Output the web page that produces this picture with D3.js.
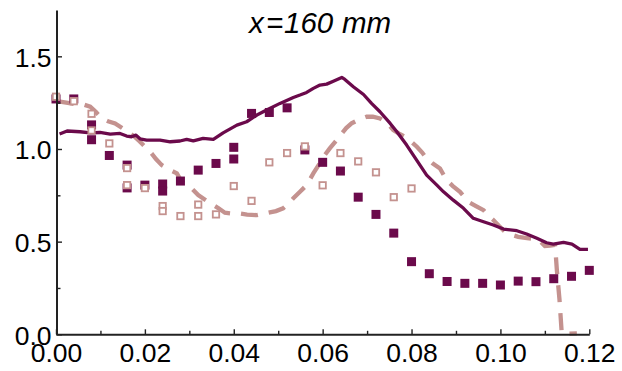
<!DOCTYPE html>
<html><head><meta charset="utf-8">
<script src="https://cdn.jsdelivr.net/npm/d3@7"></script>
<style>body{margin:0;background:#fff}svg{display:block}text{font-family:"Liberation Sans",Arial,sans-serif}</style>
</head><body>
<svg id="c" width="622" height="371"></svg>
<script>
// Filled (dark) squares
const filledX = [0.000,0.004,0.008,0.008,0.012,0.016,0.016,0.020,0.024,0.024,0.028,0.032,0.036,0.040,0.040,0.044,0.048,0.052,0.056,0.060,0.064,0.068,0.072,0.076,0.080,0.084,0.088,0.092,0.096,0.100,0.104,0.108,0.112,0.116,0.120];
const filledY = [1.27,1.27,1.13,1.05,0.965,0.913,0.79,0.805,0.811,0.773,0.827,0.886,0.922,1.009,0.946,1.192,1.197,1.222,0.995,0.928,0.881,0.74,0.647,0.546,0.392,0.327,0.285,0.275,0.275,0.266,0.287,0.284,0.30,0.313,0.345];
// Hollow (light) squares
const hollowX = [0.000,0.004,0.008,0.008,0.012,0.016,0.016,0.020,0.024,0.024,0.028,0.032,0.032,0.036,0.040,0.044,0.048,0.052,0.056,0.060,0.064,0.068,0.072,0.076,0.080];
const hollowY = [1.282,1.258,1.19,1.10,1.03,0.897,0.805,0.789,0.692,0.665,0.638,0.70,0.638,0.647,0.80,0.72,0.928,0.978,1.014,0.804,0.978,0.933,0.874,0.74,0.787];
// Solid dark line
const solidX = [0.0008,0.0025,0.0054,0.0077,0.0099,0.0122,0.0144,0.0159,0.017,0.018,0.0189,0.0204,0.0234,0.0257,0.0279,0.0294,0.0309,0.0331,0.0354,0.0376,0.0407,0.0429,0.0452,0.0474,0.0504,0.0534,0.0549,0.0564,0.0579,0.0594,0.0609,0.0624,0.0643,0.065,0.0669,0.0692,0.071,0.0729,0.0752,0.0767,0.0789,0.0804,0.0819,0.0834,0.0857,0.0872,0.0894,0.0917,0.0939,0.0962,0.0984,0.1007,0.1037,0.1059,0.1082,0.1104,0.1119,0.1142,0.1161,0.1179,0.1197];
const solidY = [1.081,1.097,1.093,1.087,1.089,1.080,1.084,1.07,1.066,1.075,1.055,1.048,1.048,1.039,1.043,1.052,1.044,1.057,1.052,1.087,1.129,1.147,1.183,1.21,1.246,1.278,1.291,1.305,1.327,1.345,1.350,1.366,1.386,1.375,1.336,1.294,1.246,1.201,1.138,1.093,1.021,0.967,0.913,0.859,0.805,0.769,0.724,0.680,0.626,0.607,0.590,0.568,0.559,0.541,0.518,0.494,0.487,0.496,0.487,0.458,0.458];
// Dashed light line
const dashX = [0.0002,0.0023,0.0045,0.0063,0.0077,0.009,0.0103,0.0117,0.0133,0.0149,0.0167,0.0178,0.0189,0.0203,0.0215,0.0225,0.0238,0.0252,0.0272,0.0283,0.0302,0.032,0.0333,0.0347,0.0365,0.038,0.0396,0.041,0.043,0.0452,0.0464,0.0478,0.0495,0.0511,0.0522,0.0534,0.0549,0.0564,0.0579,0.0594,0.0604,0.0616,0.063,0.0643,0.0653,0.0665,0.0682,0.0699,0.0713,0.0729,0.0745,0.0759,0.0772,0.0785,0.0799,0.0812,0.0824,0.0834,0.0848,0.0864,0.0879,0.0893,0.0909,0.0928,0.0945,0.0962,0.0972,0.0984,0.0997,0.101,0.1024,0.104,0.106,0.1082,0.1091,0.11,0.1112,0.1123,0.1127,0.1133,0.1138,0.1154,0.1172];
const dashY = [1.258,1.250,1.242,1.239,1.228,1.199,1.165,1.150,1.138,1.113,1.084,1.064,1.039,1.005,0.976,0.946,0.913,0.892,0.868,0.823,0.795,0.751,0.73,0.707,0.681,0.656,0.652,0.653,0.646,0.643,0.649,0.656,0.665,0.680,0.703,0.734,0.769,0.805,0.868,0.925,0.965,1.003,1.043,1.084,1.113,1.138,1.159,1.174,1.175,1.165,1.140,1.102,1.083,1.066,1.040,1.012,0.981,0.949,0.921,0.895,0.832,0.8,0.769,0.715,0.692,0.670,0.643,0.617,0.584,0.553,0.538,0.526,0.519,0.512,0.498,0.476,0.479,0.482,0.347,0.185,0.005,0.004,0.005];
const xTicks = [0,0.02,0.04,0.06,0.08,0.10,0.12];
const yTicks = [0,0.5,1.0,1.5];
const xMinor = [0.01,0.03,0.05,0.07,0.09,0.11];
const yMinor = [0.25,0.75,1.25];
const title = ["x","=","160","mm"];

const DARK = "#6b0a4b", LIGHT = "#c4928f";
const svg = d3.select("#c");
const x = d3.scaleLinear().domain([0,0.12]).range([56,589.3]);
const y = d3.scaleLinear().domain([0,1.75]).range([334.3,10]);

const line = d3.line().x(d=>x(d[0])).y(d=>y(d[1]));
svg.append("path").datum(dashX.map((v,i)=>[v,dashY[i]]))
  .attr("d",line).attr("fill","none").attr("stroke",LIGHT).attr("stroke-width",4.3)
  .attr("stroke-dasharray","17,11");
svg.append("path").datum(solidX.map((v,i)=>[v,solidY[i]]))
  .attr("d",line).attr("fill","none").attr("stroke",DARK).attr("stroke-width",3.3)
  .attr("stroke-linejoin","round");

svg.append("g").selectAll("rect").data(filledX.map((v,i)=>[v,filledY[i]])).join("rect")
  .attr("x",d=>x(d[0])-4.5).attr("y",d=>y(d[1])-4.5).attr("width",9).attr("height",9).attr("fill",DARK);
svg.append("g").selectAll("rect").data(hollowX.map((v,i)=>[v,hollowY[i]])).join("rect")
  .attr("x",d=>x(d[0])-3.2).attr("y",d=>y(d[1])-3.2).attr("width",6.4).attr("height",6.4)
  .attr("fill","#fff").attr("stroke",LIGHT).attr("stroke-width",1.8);

function styleAxis(g){
  g.select(".domain").attr("stroke","#222").attr("stroke-width",2);
  g.selectAll(".tick line").attr("stroke","#222").attr("stroke-width",1.4);
  g.selectAll("text").attr("font-size",26.5).attr("fill","#000").attr("font-family","'Liberation Sans',Arial,sans-serif");
}
const gx = svg.append("g").attr("transform","translate(0,334.3)")
  .call(d3.axisBottom(x).tickValues(xTicks).tickFormat(d3.format(".2f")).tickSize(-5).tickSizeOuter(0).tickPadding(9));
styleAxis(gx);
const gxm = svg.append("g").attr("transform","translate(0,334.3)")
  .call(d3.axisBottom(x).tickValues(xMinor).tickFormat("").tickSize(-3.5).tickSizeOuter(0));
styleAxis(gxm); gxm.select(".domain").remove();
const gy = svg.append("g").attr("transform","translate(56.5,0)")
  .call(d3.axisLeft(y).tickValues(yTicks).tickFormat(d3.format(".1f")).tickSize(-5.5).tickSizeOuter(0).tickPadding(5));
styleAxis(gy);
gy.selectAll("text").attr("dy","0.37em");
const gym = svg.append("g").attr("transform","translate(56.5,0)")
  .call(d3.axisLeft(y).tickValues(yMinor).tickFormat("").tickSize(-4).tickSizeOuter(0));
styleAxis(gym); gym.select(".domain").remove();

const tpos = [249,266,284,342];
const t = svg.append("text").attr("y",33.3).attr("font-size",29.5).attr("font-style","italic").attr("fill","#000");
title.forEach((s,i)=>t.append("tspan").attr("x",tpos[i]).text(s));
</script>
</body></html>
